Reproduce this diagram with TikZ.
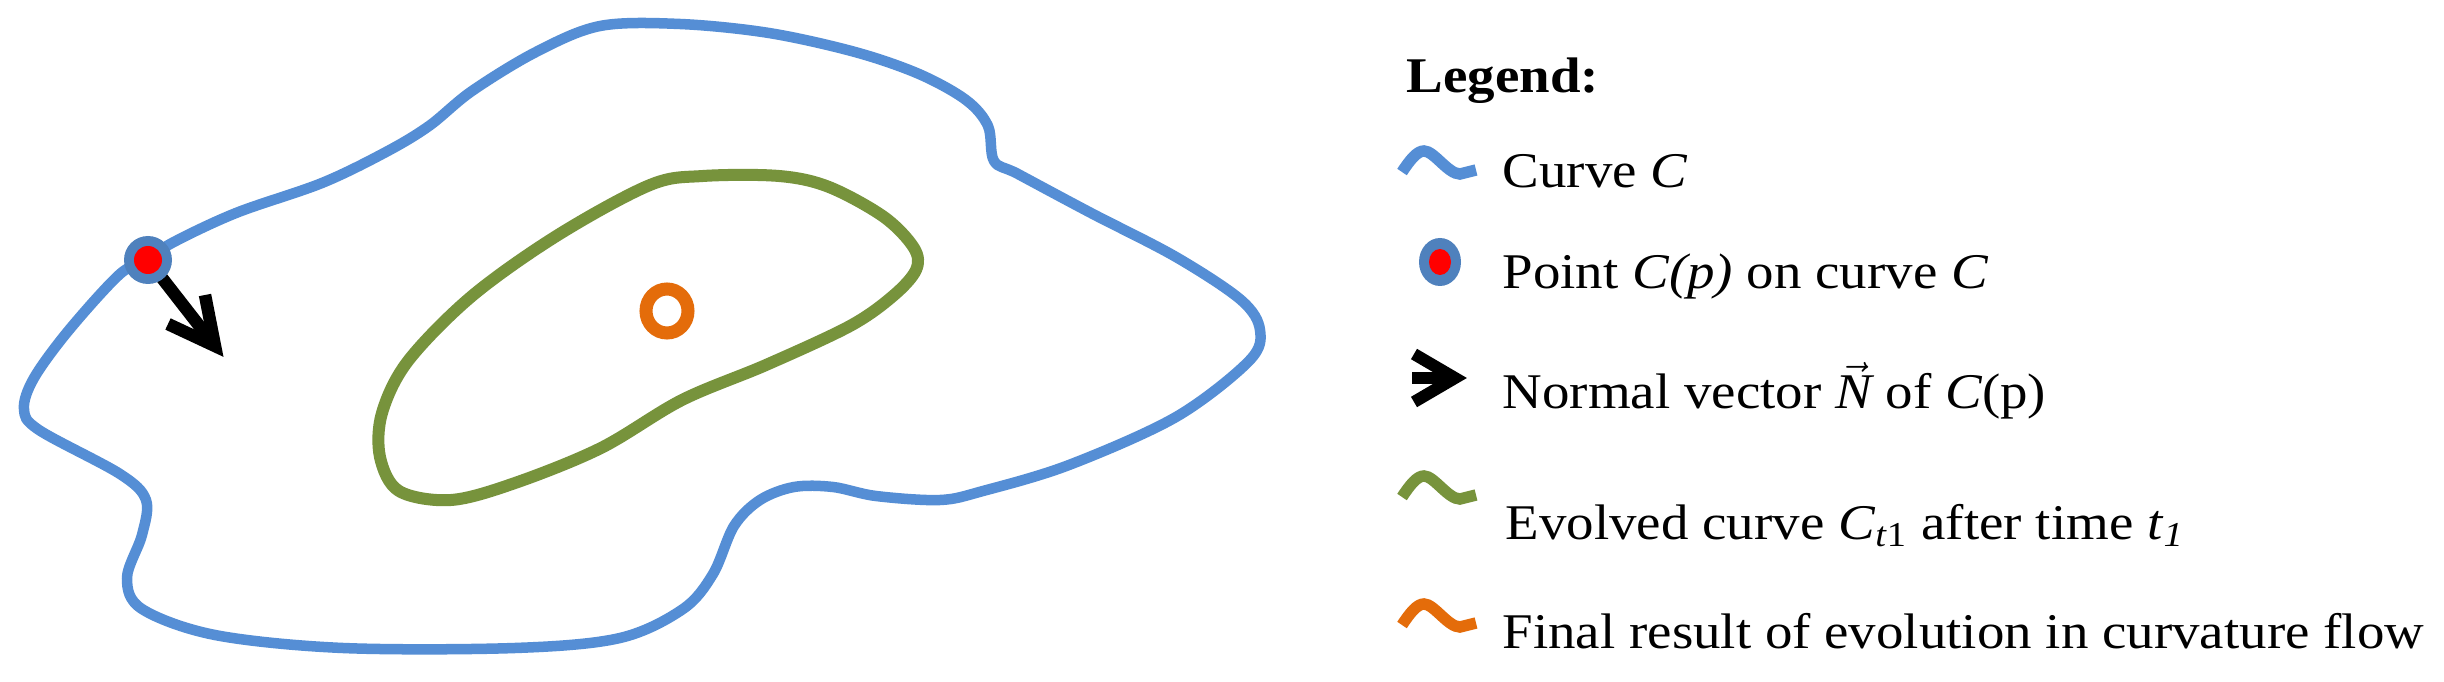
\documentclass[tikz,border=0pt]{standalone}
\usepackage{fontspec}
\setmainfont{Liberation Serif}[FakeStretch=1.1]
\definecolor{curveblue}{RGB}{85,142,213}
\definecolor{ringblue}{RGB}{79,129,189}
\definecolor{evgreen}{RGB}{119,147,60}
\definecolor{finorange}{RGB}{228,108,10}
\begin{document}
\begin{tikzpicture}[x=0.01cm,y=-0.01cm,
  bluecurve/.style={draw=curveblue,line width=0.105cm,line join=round},
  greencurve/.style={draw=evgreen,line width=0.12cm,line join=round},
  orangering/.style={draw=finorange,line width=0.13cm},
  normalarrow/.style={draw=black,line width=0.125cm},
  legtext/.style={anchor=base west,inner sep=0pt,font=\fontsize{14.2pt}{17pt}\selectfont},
  squig/.pic={\draw[line width=0.115cm,draw=#1]
     (2,0) .. controls (10,-12) and (17,-21) .. (24,-21)
     .. controls (34,-21) and (48,2) .. (60,2) -- (76,-2);},
  squig/.default=black
  ]
\useasboundingbox (0,0) rectangle (2444,682);
\fill[white] (0,0) rectangle (2444,682);

% Curve C
\draw[bluecurve] plot[smooth cycle,tension=0.55] coordinates {
 (600,26) (680,24) (769,33) (855,52) (919,74) (966,100) (988,126) (994,161)
 (1018,174) (1091,213) (1176,257) (1241,300) (1260,330) (1249,361) (1176,417)
 (1069,465) (983,491) (940,500) (876,496) (833,487) (794,487) (760,500)
 (734,526) (713,574) (683,609) (620,638) (515,648) (343,648) (215,635)
 (142,609) (127,578) (142,535) (146,500) (120,474) (39,430) (24,409)
 (34,378) (69,330) (120,274) (148,260) (172,243) (236,213) (322,183)
 (386,152) (429,126) (472,91) (536,52)};

% Evolved curve
\draw[greencurve] plot[smooth cycle,tension=0.55] coordinates {
 (650,185) (703,176) (779,176) (829,187) (884,217) (914,248) (916,270)
 (893,296) (850,326) (766,365) (682,400) (601,448) (515,483) (451,500)
 (399,491) (380,457) (382,413) (408,361) (472,296) (558,235)};

% Final result
\draw[orangering] (667,311) ellipse[x radius=21,y radius=22];

% Point and normal vector
\coordinate (P) at (148,260);
\coordinate (Ntip) at (215,346);
\draw[normalarrow] (P) -- (Ntip);
\draw[normalarrow,line join=miter] (168,324) -- (Ntip) -- (205,295);
\fill[ringblue] (P) circle[radius=24];
\fill[red] (P) circle[radius=14];

% Legend
\node[legtext] (leg) at (1406,93) {\textbf{Legend:}};

\pic at (1400,172) {squig=curveblue};
\node[legtext] (l1) at (1502,188) {Curve \textit{C}};

\coordinate (LP) at (1440,262);
\fill[ringblue] (LP) ellipse[x radius=21,y radius=24];
\fill[red] (LP) ellipse[x radius=11,y radius=13];
\node[legtext] (l2) at (1502,289) {Point \textit{C(p)} on curve \textit{C}};

\coordinate (LNtip) at (1455,378);
\draw[line width=0.12cm,line join=miter] (1414,354) -- (LNtip) -- (1414,402);
\draw[line width=0.12cm] (1412,378) -- (LNtip);
\node[legtext] (l3) at (1502,409) {Normal vector $\vec{\textit{N}}$ of \textit{C}(p)};

\pic at (1400,497) {squig=evgreen};
\node[legtext] (l4) at (1505,539) {Evolved curve \textit{C}\textsubscript{\textit{t}1} after time \textit{t}\textsubscript{\textit{1}}};

\pic at (1400,625) {squig=finorange};
\node[legtext] (l5) at (1502,648) {Final result of evolution in curvature flow};
\end{tikzpicture}
\end{document}
